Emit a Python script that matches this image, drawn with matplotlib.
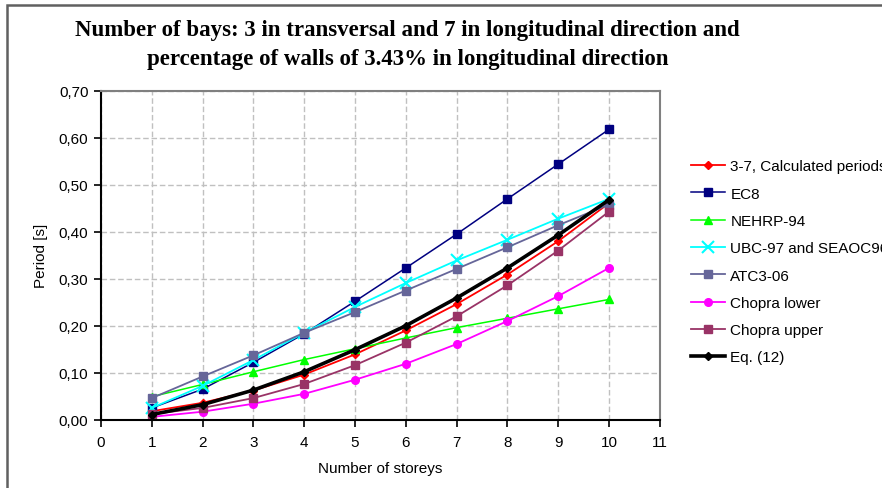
import matplotlib
matplotlib.use("Agg")
import matplotlib.pyplot as plt
from matplotlib.ticker import FuncFormatter
from matplotlib.patches import Rectangle

# storeys
storeys = [1, 2, 3, 4, 5, 6, 7, 8, 9, 10]

# periods [s]
calculated = [0.018, 0.036, 0.062, 0.096, 0.139, 0.190, 0.246, 0.309, 0.380, 0.461]
ec8 = [0.025, 0.065, 0.122, 0.183, 0.252, 0.323, 0.395, 0.470, 0.544, 0.618]
nehrp = [0.049, 0.075, 0.102, 0.128, 0.151, 0.174, 0.196, 0.216, 0.236, 0.256]
ubc = [0.025, 0.072, 0.127, 0.185, 0.240, 0.291, 0.339, 0.383, 0.428, 0.470]
atc = [0.046, 0.092, 0.137, 0.185, 0.229, 0.275, 0.321, 0.367, 0.414, 0.458]
chopra_low = [0.006, 0.017, 0.034, 0.055, 0.085, 0.119, 0.161, 0.210, 0.263, 0.323]
chopra_up = [0.012, 0.025, 0.046, 0.076, 0.116, 0.164, 0.220, 0.286, 0.360, 0.443]
eq12 = [0.011, 0.032, 0.063, 0.102, 0.149, 0.200, 0.259, 0.323, 0.393, 0.468]

titel = ("Number of bays: 3 in transversal and 7 in longitudinal direction and\n"
         "percentage of walls of 3.43% in longitudinal direction")

plt.rcParams["font.family"] = ["Liberation Sans", "DejaVu Sans"]

fig = plt.figure(figsize=(8.82, 4.89), dpi=100)
ax = fig.add_axes([0.1145, 0.1397, 0.6335, 0.6723])

ax.plot(storeys, calculated, color="#FF0000", lw=1.3, marker="D", ms=4.5, label="3-7, Calculated periods")
ax.plot(storeys, ec8, color="#000080", lw=1.1, marker="s", ms=5.5, label="EC8")
ax.plot(storeys, nehrp, color="#00FF00", lw=1.1, marker="^", ms=5.5, label="NEHRP-94")
ax.plot(storeys, ubc, color="#00FFFF", lw=1.3, marker="x", ms=8, mew=1.5, label="UBC-97 and SEAOC96")
ax.plot(storeys, atc, color="#666699", lw=1.3, marker="s", ms=5.5, label="ATC3-06")
ax.plot(storeys, chopra_low, color="#FF00FF", lw=1.3, marker="o", ms=5.5, label="Chopra lower")
ax.plot(storeys, chopra_up, color="#993366", lw=1.3, marker="s", ms=5.5, label="Chopra upper")
ax.plot(storeys, eq12, color="#000000", lw=2.6, marker="D", ms=4.5, label="Eq. (12)")

ax.set_xlim(0, 11)
ax.set_ylim(0, 0.7)
ax.set_xticks(range(0, 12))
ax.set_yticks([i / 10 for i in range(8)])
ax.yaxis.set_major_formatter(FuncFormatter(lambda v, p: f"{v:.2f}".replace(".", ",")))
ax.tick_params(direction="out", length=5, width=1.2, labelsize=11, colors="black", pad=4)
ax.tick_params(axis="x", pad=6)
ax.grid(True, ls=(0, (4, 2)), color="#C0C0C0", lw=1)
ax.set_axisbelow(True)

for s in ["left", "bottom"]:
    ax.spines[s].set_color("black")
    ax.spines[s].set_linewidth(1.5)
for s in ["top", "right"]:
    ax.spines[s].set_color("#808080")
    ax.spines[s].set_linewidth(1.5)

ax.set_xlabel("Number of storeys", fontsize=11, labelpad=9)
ax.set_ylabel("Period [s]", fontsize=11, labelpad=8)

fig.text(0.462, 0.908, titel, ha="center", va="center", fontsize=16.5,
         fontweight="bold", family=["Liberation Serif", "DejaVu Serif"], linespacing=1.47)

fig.legend(loc="upper left", bbox_to_anchor=(0.784, 0.672), frameon=False, fontsize=11,
           handlelength=2.2, handletextpad=0.35, labelspacing=0.87, borderaxespad=0, borderpad=0)

# rand rundt figuren
fig.patches.append(Rectangle((6.5 / 882, -0.1), 1.2, 1.1 - 6 / 489, transform=fig.transFigure,
                             fill=False, edgecolor="#606060", lw=1.8))

fig.savefig("out.png", dpi=100)
